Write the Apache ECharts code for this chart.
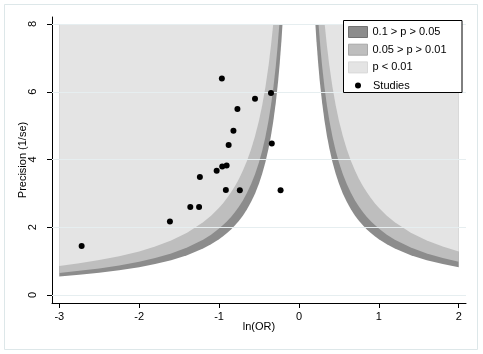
<!DOCTYPE html>
<html>
<head>
<meta charset="utf-8">
<script src="https://cdn.jsdelivr.net/npm/echarts@6/dist/echarts.min.js"></script>
<style>
  html, body { margin: 0; padding: 0; background: #fff; }
  #root { width: 483px; height: 354px; }
</style>
</head>
<body>
<div id="root"></div>
<script>
// contour boundaries: [ln(OR), precision] on the left branch
const pLevel10 = [[-3,0.548],[-2.75,0.598],[-2.5,0.658],[-2.25,0.731],[-2,0.823],[-1.8,0.914],[-1.6,1.028],[-1.4,1.175],[-1.2,1.371],[-1.1,1.495],[-1,1.645],[-0.95,1.732],[-0.9,1.828],[-0.85,1.935],[-0.8,2.056],[-0.75,2.193],[-0.7,2.35],[-0.65,2.531],[-0.6,2.742],[-0.55,2.991],[-0.5,3.29],[-0.46,3.576],[-0.42,3.917],[-0.38,4.329],[-0.35,4.7],[-0.32,5.141],[-0.29,5.672],[-0.26,6.327],[-0.24,6.854],[-0.22,7.477],[-0.2056,8]];
const pLevel05 = [[-3,0.653],[-2.75,0.713],[-2.5,0.784],[-2.25,0.871],[-2,0.98],[-1.8,1.089],[-1.6,1.225],[-1.4,1.4],[-1.2,1.633],[-1.1,1.782],[-1,1.96],[-0.95,2.063],[-0.9,2.178],[-0.85,2.306],[-0.8,2.45],[-0.75,2.613],[-0.7,2.8],[-0.65,3.015],[-0.6,3.267],[-0.55,3.564],[-0.5,3.92],[-0.46,4.261],[-0.42,4.667],[-0.38,5.158],[-0.35,5.6],[-0.32,6.125],[-0.29,6.759],[-0.27,7.259],[-0.245,8]];
const pLevel01 = [[-3,0.859],[-2.75,0.937],[-2.5,1.03],[-2.25,1.145],[-2,1.288],[-1.8,1.431],[-1.6,1.61],[-1.4,1.84],[-1.2,2.147],[-1.1,2.342],[-1,2.576],[-0.95,2.712],[-0.9,2.862],[-0.85,3.031],[-0.8,3.22],[-0.75,3.435],[-0.7,3.68],[-0.65,3.963],[-0.6,4.293],[-0.55,4.684],[-0.5,5.152],[-0.46,5.6],[-0.42,6.133],[-0.38,6.779],[-0.35,7.36],[-0.322,8]];

// studies
const studyLnOR = [-2.72,-1.615,-1.36,-1.25,-1.24,-1.03,-0.96,-0.905,-0.915,-0.74,-0.88,-0.82,-0.77,-0.965,-0.55,-0.35,-0.34,-0.23];
const studyPrecision = [1.45,2.17,2.60,2.60,3.48,3.67,3.79,3.82,3.10,3.09,4.43,4.85,5.49,6.39,5.79,5.96,4.47,3.09];

const xTicks = [-3,-2,-1,0,1,2];
const yTicks = [0,2,4,6,8];
const legendNames = ['0.1 > p > 0.05','0.05 > p > 0.01','p < 0.01','Studies'];

const dark = '#8c8c8c', mid = '#bebebe', light = '#e4e4e4';
const font = 'Liberation Sans, Arial, sans-serif';

// funnel is symmetric; right branch stops at ln(OR)=2
function mirror(pts) {
    return pts.filter(p => p[0] >= -2).map(p => [-p[0], p[1]]);
}

function band(name, pts, color) {
    return {
        name: name,
        type: 'line',
        z: 2,
        data: pts,
        showSymbol: false,
        smooth: false,
        lineStyle: { width: 0, opacity: 0 },
        itemStyle: { color: color },
        areaStyle: { color: color, opacity: 1, origin: 8 },
        emphasis: { disabled: true },
        silent: true
    };
}

let root = document.getElementById('root');
let myCharts = echarts.init(root);
let option = {
    animation: false,
    backgroundColor: '#fff',
    textStyle: { fontFamily: font },
    graphic: {
        elements: [
            { type: 'rect', shape: { x: 4.5, y: 4.5, width: 473, height: 345 },
              style: { fill: 'none', stroke: '#dde7e9', lineWidth: 1 }, silent: true },
            { type: 'rect', shape: { x: 343.5, y: 20.5, width: 118.5, height: 72 },
              style: { fill: '#fff', stroke: '#000', lineWidth: 1 }, zlevel: 1, z: 1, silent: true }
        ]
    },
    grid: { left: 52, right: 17, top: 17, bottom: 51 },
    legend: [
        {
            zlevel: 1, z: 10,
            orient: 'vertical', left: 348, top: 26, padding: 0,
            itemWidth: 19, itemHeight: 11, itemGap: 5.7,
            textStyle: { fontSize: 11, color: '#000', fontFamily: font, lineHeight: 11 },
            data: [
                { name: legendNames[0], icon: 'rect', itemStyle: { color: dark, borderColor: '#727272', borderWidth: 1 } },
                { name: legendNames[1], icon: 'rect', itemStyle: { color: mid, borderColor: '#a8a8a8', borderWidth: 1 } },
                { name: legendNames[2], icon: 'rect', itemStyle: { color: light, borderColor: '#d8d8d8', borderWidth: 1 } }
            ],
            selectedMode: false
        },
        {
            zlevel: 1, z: 10,
            orient: 'vertical', left: 355, top: 80, padding: 0,
            itemWidth: 6, itemHeight: 6,
            textStyle: { fontSize: 11, color: '#000', fontFamily: font, padding: [0, 0, 0, 7] },
            data: [{ name: legendNames[3], icon: 'circle', itemStyle: { color: '#000' } }],
            selectedMode: false
        }
    ],
    xAxis: {
        type: 'value', min: -3.091, max: 2.091,
        name: 'ln(OR)', nameLocation: 'middle', nameGap: 18, nameMoveOverlap: false,
        nameTextStyle: { fontSize: 11, color: '#000' },
        axisLine: { show: true, onZero: false, lineStyle: { color: '#000', width: 1 } },
        axisTick: { show: true, length: 5, customValues: xTicks, lineStyle: { color: '#000' } },
        axisLabel: { customValues: xTicks, fontSize: 11, color: '#000', margin: 8 },
        splitLine: { show: false }
    },
    yAxis: {
        type: 'value', min: -0.236, max: 8.207,
        name: 'Precision (1/se)', nameLocation: 'middle', nameGap: 24, nameMoveOverlap: false,
        nameTextStyle: { fontSize: 11, color: '#000' },
        axisLine: { show: true, onZero: false, lineStyle: { color: '#000', width: 1 } },
        axisTick: { show: true, length: 5, customValues: yTicks, lineStyle: { color: '#000' } },
        axisLabel: { customValues: yTicks, fontSize: 11, color: '#000', rotate: 90, margin: 14 },
        splitLine: { show: false }
    },
    series: [
        {
            type: 'line', z: 1, data: [[-3, 0]], showSymbol: false, lineStyle: { width: 0 }, silent: true,
            markLine: {
                silent: true, symbol: 'none', label: { show: false },
                lineStyle: { color: '#e6eef0', width: 1, type: 'solid' },
                data: yTicks.map(v => ({ yAxis: v }))
            }
        },
        band(legendNames[0], pLevel10, dark),
        band(legendNames[0], mirror(pLevel10), dark),
        band(legendNames[1], pLevel05, mid),
        band(legendNames[1], mirror(pLevel05), mid),
        band(legendNames[2], pLevel01, light),
        band(legendNames[2], mirror(pLevel01), light),
        {
            name: legendNames[3],
            type: 'scatter',
            z: 5,
            symbol: 'circle',
            symbolSize: 6,
            itemStyle: { color: '#000', opacity: 1 },
            data: studyLnOR.map((x, i) => [x, studyPrecision[i]])
        }
    ]
};
myCharts.setOption(option);
</script>
</body>
</html>
